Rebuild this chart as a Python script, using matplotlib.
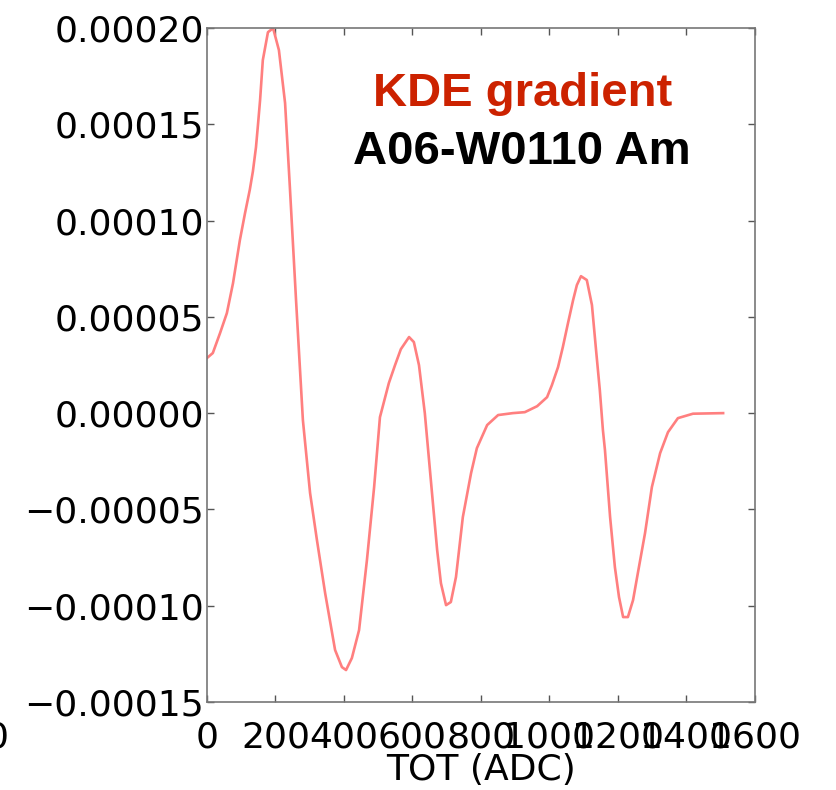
import matplotlib
matplotlib.use("Agg")
import matplotlib.pyplot as plt
from matplotlib.ticker import FuncFormatter, MultipleLocator

# values (TOT in ADC, KDE gradient)
tot = [0, 17, 38, 58, 76, 96, 111, 125, 134, 143, 149, 155, 163, 178, 193, 210,
       228, 242, 260, 280, 301, 321, 345, 374, 394, 406, 423, 444, 467, 488, 505,
       531, 549, 566, 590, 604, 619, 636, 657, 672, 683, 698, 712, 727, 747, 771,
       788, 818, 850, 893, 928, 964, 993, 1007, 1025, 1039, 1054, 1069, 1080,
       1092, 1109, 1124, 1136, 1147, 1156, 1162, 1177, 1191, 1203, 1215, 1229,
       1244, 1258, 1279, 1299, 1323, 1346, 1375, 1419, 1507]
grad = [2.86e-5, 3.12e-5, 4.15e-5, 5.19e-5, 6.75e-5, 8.98e-5, 1.038e-4, 1.16e-4,
        1.255e-4, 1.38e-4, 1.5e-4, 1.625e-4, 1.833e-4, 1.978e-4, 1.999e-4,
        1.885e-4, 1.61e-4, 1.173e-4, 5.87e-5, -3.6e-6, -4.15e-5, -6.59e-5,
        -9.35e-5, -1.23e-4, -1.319e-4, -1.334e-4, -1.272e-4, -1.127e-4, -7.63e-5,
        -3.84e-5, -2.1e-6, 1.56e-5, 2.49e-5, 3.32e-5, 3.95e-5, 3.69e-5, 2.49e-5,
        0.0, -4.15e-5, -7.11e-5, -8.83e-5, -9.97e-5, -9.81e-5, -8.51e-5, -5.4e-5,
        -3.12e-5, -1.82e-5, -6.2e-6, -1.0e-6, 0.0, 5e-7, 3.6e-6, 8.3e-6, 1.45e-5,
        2.39e-5, 3.43e-5, 4.67e-5, 5.87e-5, 6.65e-5, 7.11e-5, 6.91e-5, 5.61e-5,
        3.27e-5, 1.19e-5, -8.8e-6, -1.92e-5, -5.4e-5, -8.0e-5, -9.55e-5,
        -1.059e-4, -1.059e-4, -9.71e-5, -8.31e-5, -6.23e-5, -3.84e-5, -2.08e-5,
        -9.9e-6, -2.6e-6, -3e-7, 0.0]

title_main = 'KDE gradient'
title_sub = 'A06-W0110 Am'

fig = plt.figure(figsize=(8.37, 7.9), dpi=100)
ax = fig.add_axes([0.2473, 0.1114, 0.6547, 0.8532])

ax.plot(tot, grad, color='#ff7f7f', linewidth=1.9)

ax.set_xlim(0, 1600)
ax.set_ylim(-0.00015, 0.00020)
ax.xaxis.set_major_locator(MultipleLocator(200))
ax.yaxis.set_major_locator(MultipleLocator(0.00005))
ax.yaxis.set_major_formatter(FuncFormatter(lambda v, p: ('%.5f' % v).replace('-', '\u2212')))

ax.tick_params(direction='in', top=True, right=True, length=5, width=1,
               color='#555555', labelsize=26)
ax.tick_params(axis='x', pad=13)
ax.tick_params(axis='y', pad=2)
for s in ax.spines.values():
    s.set_color('#777777')
    s.set_linewidth(1.2)

ax.set_xlabel('TOT (ADC)', fontsize=26, labelpad=-1)

# stray tick label clipped at the left edge, as in the reference
fig.text(-0.004, 0.067, '0', fontsize=26, ha='center', va='center')

ax.text(0.576, 0.902, title_main, transform=ax.transAxes, ha='center', va='center',
        fontsize=34, fontweight='bold', color='#cc2200', family='Liberation Sans')
ax.text(0.574, 0.816, title_sub, transform=ax.transAxes, ha='center', va='center',
        fontsize=34, fontweight='bold', color='black', family='Liberation Sans')

fig.savefig('out.png', dpi=100)
